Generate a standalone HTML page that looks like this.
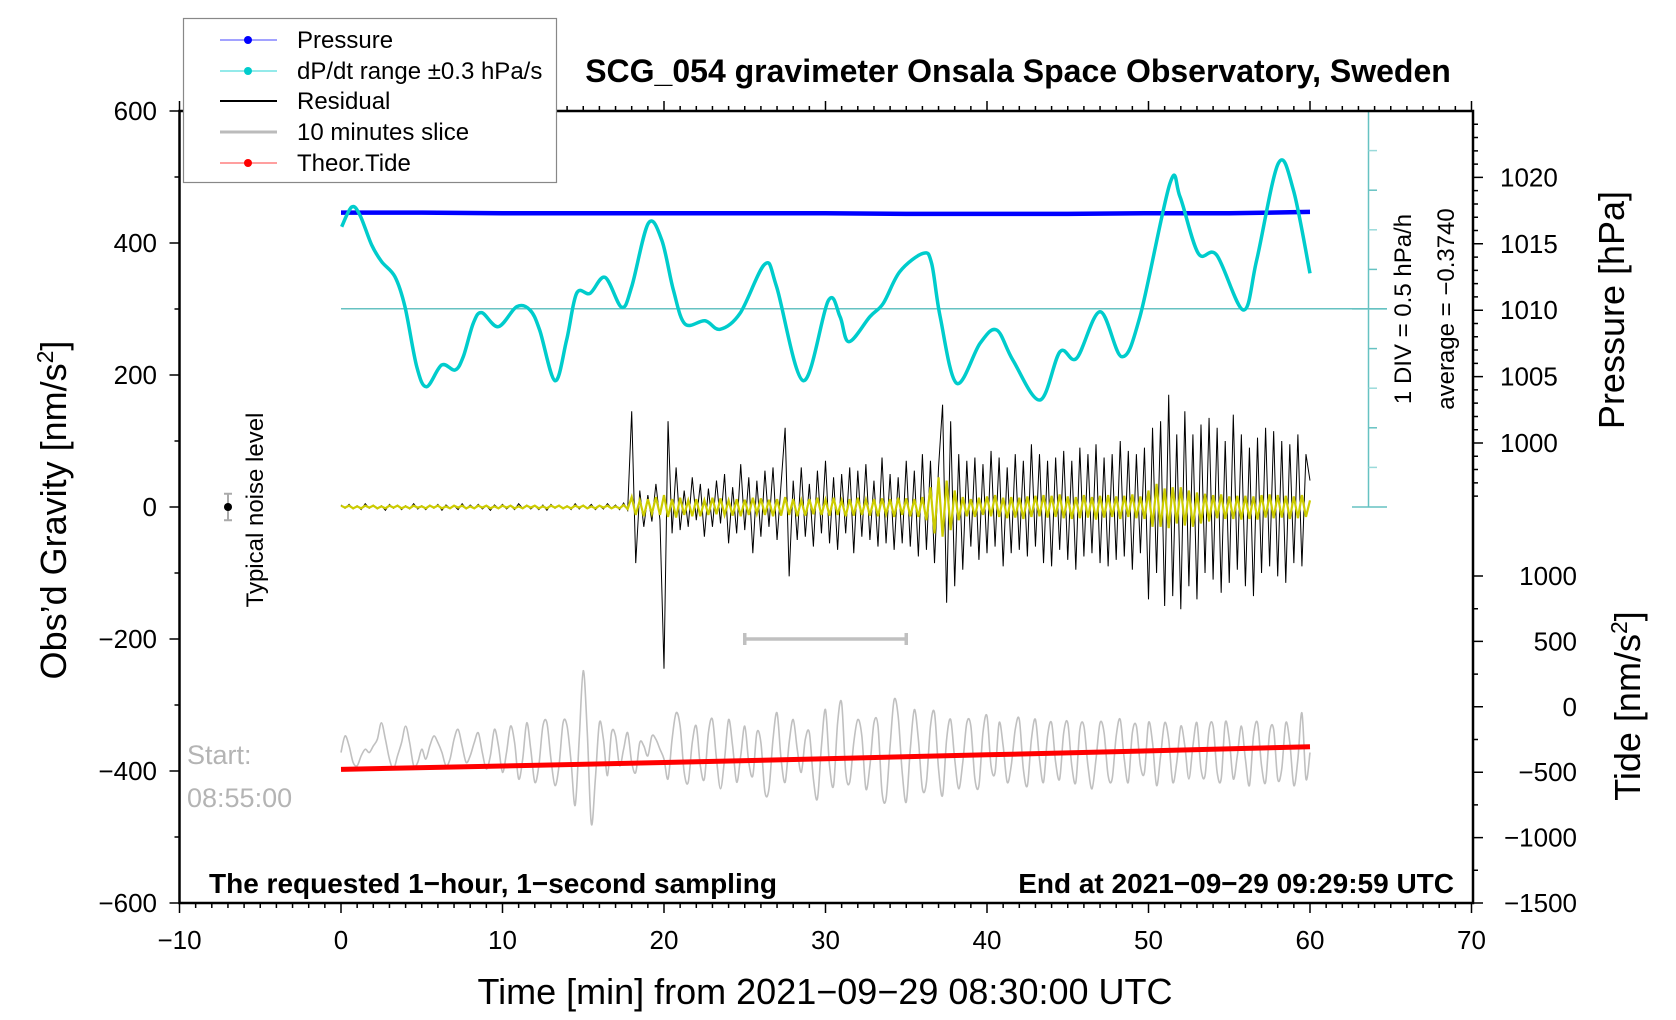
<!DOCTYPE html>
<html><head><meta charset="utf-8">
<style>
html,body{margin:0;padding:0;background:#fff;}
svg{display:block;font-family:"Liberation Sans",Arial,sans-serif;}
</style></head>
<body>
<svg id="chart" width="1676" height="1020" viewBox="0 0 1676 1020" xmlns="http://www.w3.org/2000/svg">
<rect x="0" y="0" width="1676" height="1020" fill="#fff"/>
<g id="marks"></g>
<g id="axes"></g>
<text x="1018" y="82" font-size="32" font-weight="bold" text-anchor="middle">SCG_054 gravimeter Onsala Space Observatory, Sweden</text>
<text transform="translate(66,510) rotate(-90)" font-size="36" text-anchor="middle">Obs’d Gravity [nm/s<tspan font-size="23" dy="-13">2</tspan><tspan dy="13">]</tspan></text>
<text transform="translate(1624,310) rotate(-90)" font-size="36" text-anchor="middle">Pressure [hPa]</text>
<text transform="translate(1640,706) rotate(-90)" font-size="36" text-anchor="middle">Tide [nm/s<tspan font-size="23" dy="-13">2</tspan><tspan dy="13">]</tspan></text>
<text x="825" y="1004" font-size="36" text-anchor="middle">Time [min] from 2021−09−29 08:30:00 UTC</text>
<text x="209" y="893" font-size="28" font-weight="bold">The requested 1−hour, 1−second sampling</text>
<text x="1454" y="893" font-size="28" font-weight="bold" text-anchor="end">End at 2021−09−29 09:29:59 UTC</text>
<text x="187" y="764" font-size="27" fill="#b4b4b4">Start:</text>
<text x="187" y="807" font-size="27" fill="#b4b4b4">08:55:00</text>
<text transform="translate(263,510) rotate(-90)" font-size="24" text-anchor="middle">Typical noise level</text>
<text transform="translate(1411,309) rotate(-90)" font-size="24" text-anchor="middle">1 DIV = 0.5 hPa/h</text>
<text transform="translate(1454,309) rotate(-90)" font-size="24" text-anchor="middle">average = −0.3740</text>
<g>
<rect x="183.5" y="18.5" width="373" height="164" fill="#fff" stroke="#888" stroke-width="1.2"/>
<g><line x1="220" y1="40" x2="277" y2="40" stroke="#6a6aff" stroke-width="1.2"/><circle cx="248" cy="40" r="4" fill="#0000ff"/><text x="297" y="48" font-size="24">Pressure</text></g>
<g><line x1="220" y1="71" x2="277" y2="71" stroke="#55dddd" stroke-width="1.2"/><circle cx="248" cy="71" r="4" fill="#00cccc"/><text x="297" y="79" font-size="24">dP/dt range ±0.3 hPa/s</text></g>
<g><line x1="220" y1="101" x2="277" y2="101" stroke="#000" stroke-width="2"/><text x="297" y="109" font-size="24">Residual</text></g>
<g><line x1="220" y1="132" x2="277" y2="132" stroke="#bbb" stroke-width="3"/><text x="297" y="140" font-size="24">10 minutes slice</text></g>
<g><line x1="220" y1="163" x2="277" y2="163" stroke="#ff6666" stroke-width="1.2"/><circle cx="248" cy="163" r="4" fill="#ff0000"/><text x="297" y="171" font-size="24">Theor.Tide</text></g>
</g>
</svg>
<script>
const xTicks=[-10,0,10,20,30,40,50,60,70];
const gravTicks=[600,400,200,0,-200,-400,-600];
const pressTicks=[1020,1015,1010,1005,1000];
const tideTicks=[1000,500,0,-500,-1000,-1500];
const pressTimes=[0,5,10,15,20,25,30,35,40,45,50,55,60];
const pressVals=[1017.35,1017.35,1017.3,1017.3,1017.3,1017.3,1017.3,1017.25,1017.25,1017.25,1017.3,1017.3,1017.4];
const dpdtAvg=-0.374;
const dpdtTimes=[0.04,0.66,1.17,1.9,2.52,3.34,3.96,4.69,5.3,6.23,7.06,7.57,8.19,8.71,9.74,10.88,11.7,12.3,13.25,13.97,14.59,15.42,16.35,17.38,18,19.03,19.86,20.58,21.3,22.54,23.47,24.71,26.25,26.97,28.62,30.17,30.9,31.45,32.75,33.58,34.6,36.05,36.57,37.1,38.12,39.57,40.6,41.6,43.28,44.52,45.55,47,48.34,49.47,51.33,51.95,53.08,54.22,55.87,56.7,58.04,58.97,60];
const dpdtVals=[0.661,0.910,0.809,0.430,0.219,0.030,-0.349,-1.106,-1.359,-1.085,-1.148,-0.980,-0.558,-0.424,-0.601,-0.349,-0.390,-0.643,-1.283,-0.769,-0.180,-0.180,0.022,-0.356,-0.096,0.704,0.493,-0.138,-0.567,-0.526,-0.634,-0.432,0.190,-0.096,-1.283,-0.273,-0.475,-0.791,-0.475,-0.306,0.093,0.325,0.199,-0.475,-1.316,-0.811,-0.643,-1.022,-1.527,-0.917,-1.000,-0.412,-0.980,-0.475,1.209,1.040,0.325,0.304,-0.390,0.241,1.462,1.125,0.073];
const residStep=0.25;
const residVals=[3,-2,4,-3,2,-4,5,-2,3,-3,2,-5,4,-2,3,-4,2,-3,5,-3,
2,-4,3,-2,4,-5,3,-2,2,-4,5,-3,3,-2,4,-3,2,-5,3,-2,
4,-3,2,-4,5,-2,3,-3,2,-4,3,-5,4,-2,3,-3,2,-4,5,-3,
3,-2,4,-4,2,-3,5,-2,3,-4,6,-5,
145,-85,25,-30,18,-22,35,-20,
-245,130,-40,60,-35,25,-30,45,
-20,35,-45,28,-30,40,-25,50,
-55,30,-40,65,-35,45,-70,40,
-45,55,-30,60,-50,35,120,-105,
40,-50,60,-45,35,-60,55,-40,
70,-55,45,-65,50,-40,60,-70,
55,-45,65,-50,40,-60,75,-55,
50,-65,45,-55,70,-60,55,-75,
80,-65,70,-85,60,155,-145,130,
-120,80,-95,70,-60,75,-80,65,
-70,85,-60,75,-90,60,-70,80,
-65,70,-75,95,-60,80,-85,70,
-90,75,-65,85,-80,70,-95,90,
-75,80,-70,95,-85,75,-90,80,
-80,100,-75,85,-95,80,-70,90,
-140,120,-100,130,-150,170,-135,110,
-155,145,-120,110,-140,125,-100,135,
-110,120,-130,100,-115,140,-95,110,
-120,90,-135,105,-100,120,-90,115,
-105,100,-115,95,-85,110,-90,80,
40];
const filtVals=[2,-1,2,-2,1,-2,2,-1,2,-2,1,-2,2,-1,2,-2,1,-2,2,-1,
1,-2,2,-1,2,-2,1,-2,2,-1,2,-2,1,-2,2,-1,2,-2,1,-2,
2,-1,2,-2,1,-2,2,-1,2,-2,1,-2,2,-1,2,-2,1,-2,2,-1,
2,-2,1,-2,2,-1,2,-2,1,-2,3,-3,
15,-12,10,-14,12,-10,15,-12,
18,-15,12,-16,14,-12,10,-14,
12,-14,10,-12,14,-11,13,-12,
10,-13,12,-14,11,-12,14,-10,
13,-12,11,-14,12,-13,15,-12,
12,-14,10,-13,12,-11,14,-12,
11,-13,14,-12,10,-14,12,-13,
14,-12,11,-13,12,-14,13,-11,
12,-15,14,-12,13,-14,12,-15,
15,-20,30,-40,45,-45,40,-35,
25,-20,15,-14,12,-15,14,-12,
16,-14,18,-15,14,-17,15,-16,
14,-18,16,-15,17,-14,18,-16,
17,-15,19,-17,16,-18,15,-17,
18,-16,15,-19,17,-16,18,-15,
16,-18,17,-15,19,-17,16,-18,
25,-30,35,-30,28,-32,30,-25,
30,-28,25,-30,22,-25,20,-22,
18,-17,19,-18,16,-18,17,-19,
17,-18,16,-19,18,-16,19,-17,
18,-16,17,-18,16,-17,18,-15,
10];
const sliceStart=25, sliceEnd=35, sliceBaseline=-372, sliceStep=0.25;
const sliceVals=[0,25,10,-15,-20,-5,5,0,10,20,45,20,
-10,-25,-5,15,40,15,-20,-15,5,-10,10,25,
15,0,-20,-10,20,35,10,-15,-5,15,30,0,
-25,-5,35,10,-30,0,40,15,-40,-10,45,5,
-45,-20,40,45,-10,-50,-20,45,40,-15,-80,20,
124,30,-108,-40,45,20,-35,30,25,-20,5,30,
-15,-30,15,10,-5,25,20,5,-10,-40,20,60,
40,-30,-45,15,40,-20,-40,30,50,-10,-55,-10,
50,10,-45,-5,40,-15,-35,30,15,-60,-55,20,
60,-10,-45,15,50,5,-30,20,30,-40,-70,10,
65,-20,-50,45,75,-30,-45,15,50,25,-55,-20,
45,40,-60,-70,10,80,55,-30,-75,5,65,20,
-55,-45,40,60,-25,-65,20,50,-10,-55,-15,45,
40,-40,-50,30,55,-20,-30,45,10,-45,-20,35,
50,-25,-50,20,50,-10,-45,25,45,-15,-40,30,
45,-20,-45,35,40,-20,-55,-10,45,30,-35,-40,
25,50,-10,-45,30,40,-20,-30,45,15,-50,-5,
45,20,-45,-15,40,10,-40,10,45,-25,-35,35,
40,-30,-40,45,20,-40,-5,40,-10,-50,25,45,
-20,-45,30,35,-40,-25,45,15,-50,-10,60,-40,
0];
const tideTimes=[0,10,20,30,40,50,60];
const tideVals=[-478,-453,-426,-397,-367,-337,-305];
const noiseLevel=20;

const NS='http://www.w3.org/2000/svg';
const xS=m=>341+m*16.15;
const gY=g=>507-g*0.66;
const pY=p=>177.4-(p-1020)*13.28;
const tY=t=>706.8-t*0.1308;
const cY=v=>308.7-(v-dpdtAvg)/0.5*39.6;
const marks=document.getElementById('marks');
const axes=document.getElementById('axes');
function mk(tag,attrs,parent){const e=document.createElementNS(NS,tag);for(const k in attrs)e.setAttribute(k,attrs[k]);parent.appendChild(e);return e;}
function poly(pts){return pts.map((p,i)=>(i?'L':'M')+p[0].toFixed(2)+','+p[1].toFixed(2)).join('');}
function smooth(pts){let d='M'+pts[0][0]+','+pts[0][1];for(let i=0;i<pts.length-1;i++){const p0=pts[i-1]||pts[i],p1=pts[i],p2=pts[i+1],p3=pts[i+2]||p2;
d+='C'+(p1[0]+(p2[0]-p0[0])/6).toFixed(2)+','+(p1[1]+(p2[1]-p0[1])/6).toFixed(2)+' '+(p2[0]-(p3[0]-p1[0])/6).toFixed(2)+','+(p2[1]-(p3[1]-p1[1])/6).toFixed(2)+' '+p2[0].toFixed(2)+','+p2[1].toFixed(2);}return d;}

let e=mk('line',{x1:1368.5,y1:111,x2:1368.5,y2:507,stroke:'#66c2c2','stroke-width':1.5},marks);


for(let i=0;i<=10;i++){const y=111+i*39.6;
 const long=(i===0||i===5||i===10);
 e=mk('line',{x1:long?1352:1368.5,y1:y,x2:long?1387:1377,y2:y,stroke:i%2?'#9adada':'#66c2c2','stroke-width':1.5},marks);
 
 }
e=mk('line',{x1:xS(0),y1:cY(dpdtAvg),x2:1387,y2:cY(dpdtAvg),stroke:'#66c2c2','stroke-width':1.5},marks);



e=mk('path',{d:poly(pressTimes.map((t,i)=>[xS(t),pY(pressVals[i])])),fill:'none',stroke:'#0000ff','stroke-width':4.5},marks);


e=mk('path',{d:smooth(dpdtTimes.map((t,i)=>[xS(t),cY(dpdtVals[i])])),fill:'none',stroke:'#00cccc','stroke-width':3.5,'stroke-linejoin':'round'},marks);


e=mk('path',{d:poly(residVals.map((v,i)=>[xS(i*residStep),gY(v)])),fill:'none',stroke:'#000','stroke-width':1},marks);


e=mk('path',{d:poly(filtVals.map((v,i)=>[xS(i*residStep),gY(v)])),fill:'none',stroke:'#cccc00','stroke-width':2.2},marks);


e=mk('path',{d:'M'+xS(sliceStart)+','+(gY(-200)-6)+'v12M'+xS(sliceStart)+','+gY(-200)+'H'+xS(sliceEnd)+'M'+xS(sliceEnd)+','+(gY(-200)-6)+'v12',fill:'none',stroke:'#c0c0c0','stroke-width':3.5},marks);


e=mk('path',{d:smooth(sliceVals.map((v,i)=>[xS(i*sliceStep),gY(sliceBaseline+v)])),fill:'none',stroke:'#c0c0c0','stroke-width':1.6},marks);


e=mk('path',{d:poly(tideTimes.map((t,i)=>[xS(t),tY(tideVals[i])])),fill:'none',stroke:'#ff0000','stroke-width':5},marks);


e=mk('path',{d:'M224,'+gY(noiseLevel)+'h8M228,'+gY(noiseLevel)+'V'+gY(-noiseLevel)+'M224,'+gY(-noiseLevel)+'h8',fill:'none',stroke:'#aaa','stroke-width':2},marks);


e=mk('circle',{cx:228,cy:gY(0),r:4,fill:'#000'},marks);



e=mk('rect',{x:179.5,y:111,width:1293.5,height:792,fill:'none',stroke:'#000','stroke-width':2.5},axes);


let tk='';
for(let m=-10;m<=70;m++){const x=xS(m);const L=(m%10===0)?10:5;tk+='M'+x+',903v'+L+'M'+x+',111v-'+L;}
for(let g=600;g>=-600;g-=100){const L=(g%200===0)?10:5;tk+='M179.5,'+gY(g)+'h-'+L;}
for(let p=1024;p>=996;p--){const L=(p%5===0)?10:5;tk+='M1473,'+pY(p)+'h'+L;}
for(let t=1000;t>=-1500;t-=250){const L=(t%500===0)?10:5;tk+='M1473,'+tY(t)+'h'+L;}
e=mk('path',{d:tk,stroke:'#000','stroke-width':1.5,fill:'none'},axes);


const fmt=v=>(v<0?'−'+Math.abs(v):String(v));
xTicks.forEach(v=>{const t=mk('text',{x:xS(v),y:949,'font-size':26,'text-anchor':'middle'},axes);t.textContent=fmt(v);

});
gravTicks.forEach(v=>{const t=mk('text',{x:157,y:gY(v)+9,'font-size':26,'text-anchor':'end'},axes);t.textContent=fmt(v);

});
pressTicks.forEach(v=>{const t=mk('text',{x:1500,y:pY(v)+9,'font-size':26},axes);t.textContent=fmt(v);

});
tideTicks.forEach(v=>{const t=mk('text',{x:1577,y:tY(v)+9,'font-size':26,'text-anchor':'end'},axes);t.textContent=fmt(v);

});
</script>
</body></html>
